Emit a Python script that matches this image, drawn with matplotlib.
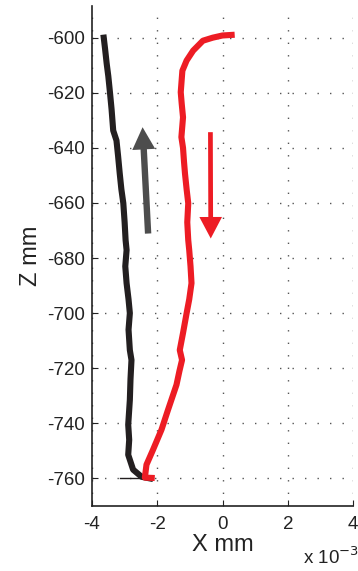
import numpy as np
import matplotlib
matplotlib.use("Agg")
import matplotlib.pyplot as plt

plt.rcParams['font.family'] = ['Liberation Sans', 'DejaVu Sans']

# traces (x in 1e-3 mm, z in mm)
black_x = [-3.64, -3.60, -3.55, -3.50, -3.45, -3.40, -3.35, -3.25, -3.20, -3.15, -3.10,
           -3.04, -3.00, -2.97, -2.94, -2.98, -2.94, -2.88, -2.84, -2.88, -2.84, -2.79,
           -2.82, -2.84, -2.89, -2.86, -2.89, -2.74, -2.48, -2.22]
black_z = [-600, -604, -609.4, -614, -619.8, -626, -633.7, -637.3, -643, -649.3, -655,
           -660.1, -667, -673.5, -677.1, -683, -689.1, -695, -700, -706, -713.4, -717,
           -724, -731.5, -740.5, -746, -751.4, -756.8, -759.4, -760]
base_x = [-3.14, -2.17]
base_z = [-760, -760]

red_x = [0.28, 0.0, -0.30, -0.60, -0.90, -1.10, -1.23, -1.28, -1.25, -1.21, -1.26,
         -1.21, -1.18, -1.15, -1.10, -1.05, -1.08, -1.05, -1.02, -0.98, -0.95, -1.02,
         -1.10, -1.21, -1.31, -1.24, -1.32, -1.41, -1.67, -1.87, -2.13, -2.33,
         -2.38, -2.17]
red_z = [-599, -599.2, -600, -601.1, -604.7, -608.3, -612, -619.8, -624, -628.9, -636.1,
         -640, -645, -649.3, -655, -660.1, -667, -673.5, -677.1, -683, -689.1, -695,
         -700, -707.2, -713.4, -717, -721, -726, -735.1, -742.3, -749.6, -755,
         -759.7, -759.8]

xticks = [-4, -2, 0, 2, 4]
yticks = [-760, -740, -720, -700, -680, -660, -640, -620, -600]

BLACK = '#231f20'
RED = '#ed1c24'
GRAY = '#4d4d4d'

fig = plt.figure(figsize=(3.58, 5.71), dpi=100)
ax = fig.add_axes([92/358, 1-506/571, 261/358, 500/571])

ax.plot(black_x, black_z, color=BLACK, lw=4.4, solid_joinstyle='round')
ax.plot(base_x, base_z, color=BLACK, lw=1.0)
ax.plot(red_x, red_z, color=RED, lw=4.4, solid_joinstyle='round')

# direction arrows
ax.annotate('', xy=(-2.45, -632.5), xytext=(-2.28, -671.1),
            arrowprops=dict(arrowstyle='simple,head_length=16,head_width=16.5,tail_width=4.6',
                            mutation_scale=1, color=GRAY, shrinkA=0, shrinkB=0, lw=0))
ax.annotate('', xy=(-0.36, -672.9), xytext=(-0.37, -634.3),
            arrowprops=dict(arrowstyle='simple,head_length=15.5,head_width=16.3,tail_width=3.4',
                            mutation_scale=1, color=RED, shrinkA=0, shrinkB=0, lw=0))

ax.set_xlim(-4, 4)
ax.set_ylim(-770, -588.5)
ax.set_xticks(xticks)
ax.set_yticks(yticks)
ax.set_xticklabels([str(t) for t in xticks])
ax.set_yticklabels([str(t) for t in yticks])
ax.tick_params(direction='in', length=4, width=0.8, labelsize=13.5, colors='#222222')
ax.tick_params(axis='x', pad=7)
ax.tick_params(axis='y', pad=5)

ax.grid(True, color='#555555', lw=1.0, linestyle=(0, (1, 8)))
ax.spines['top'].set_visible(False)
ax.spines['right'].set_visible(False)
for s in ['left', 'bottom']:
    ax.spines[s].set_linewidth(1.2)
    ax.spines[s].set_color('#222222')

ax.set_xlabel('X mm', fontsize=17, labelpad=1, color='#222222')
ax.set_ylabel('Z mm', fontsize=17, labelpad=4, color='#222222')
fig.text(303/358, 1-564/571, r'x 10$^{-3}$', fontsize=13.5, color='#222222',
         ha='left', va='baseline')

fig.savefig('out.png', dpi=100)
